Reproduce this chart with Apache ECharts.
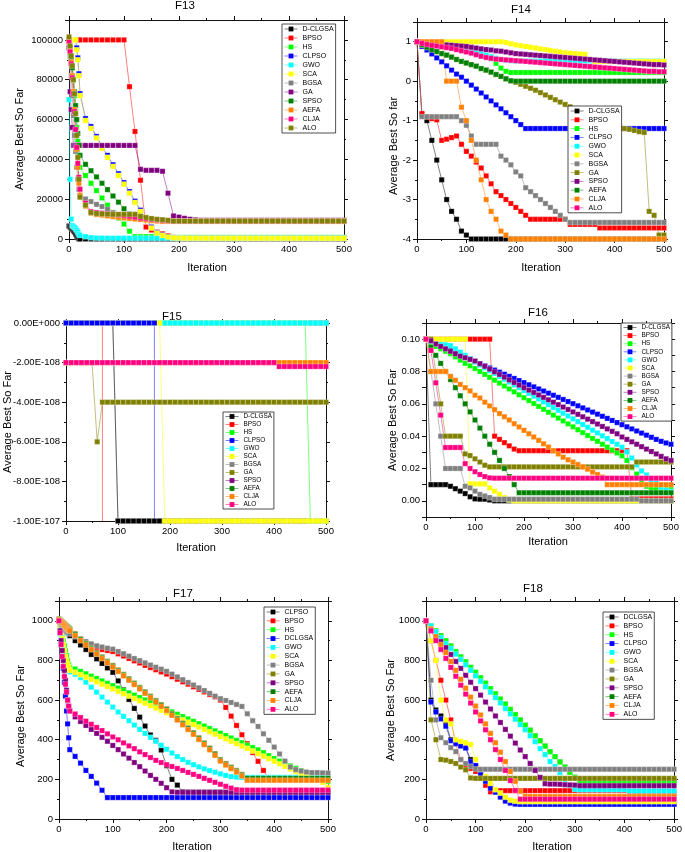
<!DOCTYPE html>
<html><head><meta charset="utf-8">
<script src="https://cdn.jsdelivr.net/npm/echarts/dist/echarts.min.js"></script>
<style>html,body{margin:0;padding:0;background:#fff}#c{width:685px;height:852px}</style>
</head><body><div id="c"></div>
<script>
// ---------- iteration axes ----------
const ITER_DENSE = [0,2,4,6,8,10,12,14,16,18,20,
30,40,50,60,70,80,90,100,110,120,
130,140,150,160,170,180,190,200,210,220,
230,240,250,260,270,280,290,300,310,320,
330,340,350,360,370,380,390,400,410,420,
430,440,450,460,470,480,490,500];
const ITER_STEP = [0,10,20,30,40,50,60,70,80,90,
100,110,120,130,140,150,160,170,180,190,
200,210,220,230,240,250,260,270,280,290,
300,310,320,330,340,350,360,370,380,390,
400,410,420,430,440,450,460,470,480,490,500];

// ---------- legend names ----------
const NAMES_STD = ['D-CLGSA','BPSO','HS','CLPSO','GWO','SCA','BGSA','GA','SPSO','AEFA','CLJA','ALO'];
const NAMES_F17 = ['CLPSO','BPSO','HS','DCLGSA','GWO','SCA','BGSA','GA','SPSO','AEFA','CLJA','ALO'];
const NAMES_F18 = ['DCLGSA','BPSO','HS','CLPSO','GWO','SCA','BGSA','GA','SPSO','AEFA','CLJA','ALO'];

// ---------- F13 (x = ITER_DENSE) ----------
const F13_DCLGSA = [6500,6000,5500,5000,4200,3500,2500,1500,700,100,0,
0,0,0,0,0,0,0,0,0,0, 0,0,0,0,0,0,0,0,0,0, 0,0,0,0,0,0,0,0,0,0, 0,0,0,0,0,0,0,0,0,0, 0,0,0,0,0,0,0,0];
const F13_BPSO = [100000,100000,100000,100000,100000,100000,100000,100000,100000,100000,100000,
100000,100000,100000,100000,100000,100000,100000,100000,76500,54000,
29500,6000,4500,3400,2600,1600,800,500,400,400,
400,400,400,400,400,400,400,400,400,400, 400,400,400,400,400,400,400,400,400,400, 400,400,400,400,400,400,400,400];
const F13_HS = [100000,96000,92000,87000,80000,72000,64000,56000,49000,42000,36000,
31900,28000,24300,20600,17000,13300,10500,7500,3900,1200,
1200,1200,1200,1200,1100,900,800,800,800,800,
800,800,800,800,800,800,800,800,800,800, 800,800,800,800,800,800,800,800,800,800, 800,800,800,800,800,800,800,800];
const F13_CLPSO = [100000,100000,100000,100000,100000,100000,100000,96000,91000,83000,73000,
60500,56500,51500,46500,42000,37300,32800,28300,23800,19000,
14500,10000,6000,3300,2000,1100,700,500,400,400,
400,400,400,400,400,400,400,400,400,400, 400,400,400,400,400,400,400,400,400,400, 400,400,400,400,400,400,400,400];
const F13_GWO = [70000,30000,10000,6800,6300,5800,5200,4500,3500,2500,1800,
1200,700,500,450,400,400,400,400,400,400,
400,400,400,400,400,400,400,400,400,400, 400,400,400,400,400,400,400,400,400,400, 400,400,400,400,400,400,400,400,400,400, 400,400,400,400,400,400,400,400];
const F13_SCA = [100000,100000,100000,100000,100000,100000,100000,95000,90000,82000,72000,
59500,55500,50700,45500,41000,36400,31900,27500,23000,18300,
13800,9500,5500,3000,1800,1000,600,500,400,400,
400,380,380,380,380,380,380,380,380,380, 360,360,360,360,360,360,360,360,360,360, 340,340,340,340,340,340,340,340];
const F13_BGSA = [100000,92000,82000,72000,62000,52000,44000,36000,30000,25000,21500,
20100,18800,17400,16300,14900,13200,12200,11600,11200,10800,
10400,10000,9700,9400,9200,9000,9000,9000,9000,9000,
9000,9000,9000,9000,9000,9000,9000,9000,9000,9000, 9000,9000,9000,9000,9000,9000,9000,9000,9000,9000, 9000,9000,9000,9000,9000,9000,9000,9000];
const F13_GA = [96000,74000,65000,56000,47000,47000,47000,47000,47000,47000,47000,
47000,47000,47000,47000,47000,47000,47000,47000,47000,47000,
35000,34500,34500,34500,34000,23000,11600,11000,10400,9900,
9600,9400,9400,9400,9400,9400,9400,9400,9400,9400, 9400,9400,9400,9400,9400,9400,9400,9400,9400,9400, 9400,9400,9400,9400,9400,9400,9400,9400];
const F13_SPSO = [100000,96000,91000,86000,80000,74000,67000,60000,53000,47000,42000,
37500,34300,31200,28000,24800,21600,18500,15200,12500,11500,
11000,10500,10000,9600,9300,9000,9000,9000,9000,9000,
9000,9000,9000,9000,9000,9000,9000,9000,9000,9000, 9000,9000,9000,9000,9000,9000,9000,9000,9000,9000, 9000,9000,9000,9000,9000,9000,9000,9000];
const F13_AEFA = [100000,95000,89000,82000,74000,65000,55000,45000,36000,28000,22000,
16500,13000,12300,12000,11600,11200,10900,10600,10300,10000,
9800,9500,9200,9000,8800,8800,8800,8800,8800,8800,
8800,8800,8800,8800,8800,8800,8800,8800,8800,8800, 8800,8800,8800,8800,8800,8800,8800,8800,8800,8800, 8800,8800,8800,8800,8800,8800,8800,8800];
const F13_CLJA = [99000,94000,88000,81000,73000,64000,55000,46000,38000,31000,25000,
18000,13800,13300,13000,12700,12400,12100,11800,11400,11000,
10500,10200,9900,9600,9400,9200,9000,9000,9000,9000,
9000,9000,9000,9000,9000,9000,9000,9000,9000,9000, 9000,9000,9000,9000,9000,9000,9000,9000,9000,9000, 9000,9000,9000,9000,9000,9000,9000,9000];
const F13_ALO = [101500,97000,92000,87000,80000,73000,63000,52000,41000,30000,21000,
17000,13300,12800,12600,12500,12400,12400,12400,12400,12400,
11400,10800,10300,9900,9700,9400,9000,9000,9000,9000,
9000,9000,9000,9000,9000,9000,9000,9000,9000,9000, 9000,9000,9000,9000,9000,9000,9000,9000,9000,9000, 9000,9000,9000,9000,9000,9000,9000,9000];

// ---------- F14 (x = ITER_STEP) ----------
const F14_DCLGSA = [1,-0.85,-1,-1.5,-2,-2.5,-3,-3.3,-3.5,-3.8,
-3.9,-4,-4,-4,-4,-4,-4,-4,-4,-4, -4,-4,-4,-4,-4,-4,-4,-4,-4,-4, -4,-4,-4,-4,-4,-4,-4,-4,-4,-4, -4,-4,-4,-4,-4,-4,-4,-4,-4,-4, -4];
const F14_BPSO = [1,-0.82,-0.9,-0.95,-0.98,-1.5,-1.47,-1.43,-1.39,-1.6,
-1.78,-1.9,-2.05,-2.2,-2.4,-2.6,-2.8,-2.9,-3,-3.1,
-3.2,-3.3,-3.4,-3.5,-3.5,-3.5,-3.5,-3.5,-3.5,-3.5,
-3.5,-3.63,-3.63,-3.63,-3.63,-3.63,-3.63,-3.72,-3.72,-3.72,
-3.72,-3.72,-3.72,-3.72,-3.72,-3.72,-3.72,-3.72,-3.72,-3.72, -3.72];
const F14_HS = [1,0.97,0.95,0.93,0.92,0.9,0.89,0.87,0.85,0.84,
0.82,0.8,0.78,0.74,0.65,0.57,0.45,0.33,0.25,0.22,
0.22,0.22,0.22,0.22,0.22,0.22,0.22,0.22,0.22,0.22, 0.22,0.22,0.22,0.22,0.22,0.22,0.22,0.22,0.22,0.22, 0.22,0.22,0.22,0.22,0.22,0.22,0.22,0.22,0.22,0.22, 0.22];
const F14_CLPSO = [1,0.88,0.79,0.69,0.59,0.49,0.39,0.28,0.18,0.1,
0,-0.1,-0.2,-0.3,-0.4,-0.5,-0.6,-0.7,-0.8,-0.9,
-1,-1.1,-1.2,-1.2,-1.2,-1.2,-1.2,-1.2,-1.2,-1.2,
-1.2,-1.2,-1.2,-1.2,-1.2,-1.2,-1.2,-1.2,-1.2,-1.2, -1.2,-1.2,-1.2,-1.2,-1.2,-1.2,-1.2,-1.2,-1.2,-1.2, -1.2];
const F14_GWO = [1,0.98,0.96,0.94,0.92,0.9,0.88,0.86,0.84,0.82,
0.8,0.77,0.74,0.7,0.66,0.62,0.58,0.55,0.53,0.52,
0.51,0.51,0.51,0.51,0.51,0.51,0.51,0.51,0.51,0.51, 0.51,0.51,0.51,0.51,0.51,0.51,0.51,0.51,0.51,0.51, 0.51,0.51,0.51,0.51,0.51,0.51,0.51,0.51,0.51,0.51, 0.5];
const F14_SCA = [1,1,1,1,1,1,1,1,1,1,
1,1,1,1,1,1,1,1,0.98,0.95,
0.92,0.9,0.88,0.86,0.84,0.82,0.8,0.78,0.76,0.74,
0.72,0.71,0.7,0.69,0.68,0.55,0.5,0.5,0.5,0.5,
0.5,0.5,0.5,0.5,0.5,0.5,0.5,0.5,0.5,0.5, 0.5];
const F14_BGSA = [1,-0.9,-0.9,-0.9,-0.9,-0.9,-0.9,-0.9,-0.9,-1,
-1.12,-1.39,-1.6,-1.6,-1.6,-1.6,-1.6,-1.9,-2,-2.12,
-2.3,-2.4,-2.7,-2.8,-2.9,-3,-3.1,-3.2,-3.3,-3.4,
-3.5,-3.58,-3.58,-3.58,-3.58,-3.58,-3.58,-3.58,-3.58,-3.58,
-3.58,-3.58,-3.58,-3.58,-3.58,-3.58,-3.58,-3.58,-3.58,-3.58, -3.58];
const F14_GA = [1,0.92,0.86,0.8,0.75,0.7,0.66,0.61,0.55,0.5,
0.46,0.42,0.38,0.32,0.28,0.23,0.17,0.12,0.06,0.01,
-0.03,-0.08,-0.13,-0.18,-0.23,-0.29,-0.35,-0.41,-0.47,-0.53,
-0.59,-0.65,-0.7,-0.75,-0.8,-0.85,-0.9,-0.95,-1,-1.05,
-1.1,-1.15,-1.2,-1.22,-1.25,-1.28,-1.3,-3.3,-3.4,-3.9, -3.9];
const F14_SPSO = [1,0.98,0.96,0.95,0.94,0.93,0.92,0.91,0.9,0.89,
0.88,0.86,0.84,0.82,0.8,0.79,0.77,0.76,0.74,0.72,
0.7,0.69,0.68,0.67,0.66,0.65,0.64,0.63,0.62,0.61,
0.6,0.59,0.58,0.57,0.56,0.55,0.54,0.53,0.52,0.51,
0.5,0.49,0.48,0.47,0.46,0.45,0.44,0.43,0.42,0.42, 0.41];
const F14_AEFA = [1,0.92,0.86,0.8,0.75,0.7,0.66,0.61,0.55,0.5,
0.46,0.42,0.38,0.32,0.28,0.23,0.17,0.12,0.06,0.01,
0,0,0,0,0,0,0,0,0,0, 0,0,0,0,0,0,0,0,0,0, 0,0,0,0,0,0,0,0,0,0, 0];
const F14_CLJA = [1,1,1,1,1,1,0,0,0,-0.66,
-1,-1.5,-2,-2.5,-3,-3.3,-3.5,-3.8,-3.9,-4,
-4,-4,-4,-4,-4,-4,-4,-4,-4,-4, -4,-4,-4,-4,-4,-4,-4,-4,-4,-4, -4,-4,-4,-4,-4,-4,-4,-4,-4,-4, -4];
const F14_ALO = [1,0.96,0.93,0.91,0.89,0.87,0.85,0.83,0.8,0.77,
0.74,0.71,0.67,0.63,0.6,0.58,0.56,0.55,0.54,0.53,
0.52,0.51,0.5,0.49,0.48,0.47,0.46,0.45,0.44,0.43,
0.42,0.41,0.4,0.39,0.38,0.37,0.36,0.35,0.34,0.33,
0.32,0.31,0.3,0.29,0.28,0.27,0.26,0.25,0.25,0.24, 0.24];

// ---------- F15 (x = ITER_STEP, values in units of 1E-108; -1000 = far below the plotted range) ----------
const F15_UNIT_EXP = -108;
const F15_DCLGSA = [0,0,0,0,0,0,0,0,0,0,
-10,-10,-10,-10,-10,-10,-10,-10,-10,-10, -10,-10,-10,-10,-10,-10,-10,-10,-10,-10, -10,-10,-10,-10,-10,-10,-10,-10,-10,-10, -10,-10,-10,-10,-10,-10,-10,-10,-10,-10, -10];
const F15_BPSO = [0,0,0,0,0,0,0,0,-1000,-1000,
-1000,-1000,-1000,-1000,-1000,-1000,-1000,-1000,-1000,-1000, -1000,-1000,-1000,-1000,-1000,-1000,-1000,-1000,-1000,-1000,
-1000,-1000,-1000,-1000,-1000,-1000,-1000,-1000,-1000,-1000, -1000,-1000,-1000,-1000,-1000,-1000,-1000,-1000,-1000,-1000, -1000];
const F15_HS = [0,0,0,0,0,0,0,0,0,0, 0,0,0,0,0,0,0,0,0,0, 0,0,0,0,0,0,0,0,0,0, 0,0,0,0,0,0,0,0,0,0,
0,0,0,0,0,0,0,-10,-10,-10, -10];
const F15_CLPSO = [0,0,0,0,0,0,0,0,0,0,
0,0,0,0,0,0,0,0,-1000,-1000,
-1000,-1000,-1000,-1000,-1000,-1000,-1000,-1000,-1000,-1000, -1000,-1000,-1000,-1000,-1000,-1000,-1000,-1000,-1000,-1000,
-1000,-1000,-1000,-1000,-1000,-1000,-1000,-1000,-1000,-1000, -1000];
const F15_GWO = [0,0,0,0,0,0,0,0,0,0, 0,0,0,0,0,0,0,0,0,0, 0,0,0,0,0,0,0,0,0,0, 0,0,0,0,0,0,0,0,0,0, 0,0,0,0,0,0,0,0,0,0, 0];
const F15_SCA = [0,0,0,0,0,0,0,0,0,0,
0,0,0,0,0,0,0,0,0,-10,
-10,-10,-10,-10,-10,-10,-10,-10,-10,-10, -10,-10,-10,-10,-10,-10,-10,-10,-10,-10, -10,-10,-10,-10,-10,-10,-10,-10,-10,-10, -10];
const F15_BGSA = [0,0,0,0,0,0,0,0,0,0,
-10,-10,-10,-10,-10,-10,-10,-10,-10,-10, -10,-10,-10,-10,-10,-10,-10,-10,-10,-10, -10,-10,-10,-10,-10,-10,-10,-10,-10,-10, -10,-10,-10,-10,-10,-10,-10,-10,-10,-10, -10];
const F15_GA = [-2,-2,-2,-2,-2,-2,-6,-4,-4,-4,
-4,-4,-4,-4,-4,-4,-4,-4,-4,-4, -4,-4,-4,-4,-4,-4,-4,-4,-4,-4, -4,-4,-4,-4,-4,-4,-4,-4,-4,-4, -4,-4,-4,-4,-4,-4,-4,-4,-4,-4, -4];
const F15_SPSO = [0,0,0,0,0,0,0,0,0,0, 0,0,0,0,0,0,0,0,0,0, 0,0,0,0,0,0,0,0,0,0, 0,0,0,0,0,0,0,0,0,0, 0,0,0,0,0,0,0,0,0,0, 0];
const F15_AEFA = [0,0,0,0,0,0,0,0,0,0, 0,0,0,0,0,0,0,0,0,0, 0,0,0,0,0,0,0,0,0,0, 0,0,0,0,0,0,0,0,0,0, 0,0,0,0,0,0,0,0,0,0, 0];
const F15_CLJA = [-2,-2,-2,-2,-2,-2,-2,-2,-2,-2, -2,-2,-2,-2,-2,-2,-2,-2,-2,-2, -2,-2,-2,-2,-2,-2,-2,-2,-2,-2, -2,-2,-2,-2,-2,-2,-2,-2,-2,-2, -2,-2,-2,-2,-2,-2,-2,-2,-2,-2, -2];
const F15_ALO = [-2,-2,-2,-2,-2,-2,-2,-2,-2,-2, -2,-2,-2,-2,-2,-2,-2,-2,-2,-2, -2,-2,-2,-2,-2,-2,-2,-2,-2,-2, -2,-2,-2,-2,-2,-2,-2,-2,-2,-2,
-2,-2.2,-2.2,-2.2,-2.2,-2.2,-2.2,-2.2,-2.2,-2.2, -2.2];

// ---------- F16 (x = ITER_STEP) ----------
const F16_DCLGSA = [0.1,0.01,0.01,0.01,0.01,0.009,0.0075,0.006,0.0045,0.0025,
0.0012,0.001,0.001,0.0005,0,0,0,0,0,0,
0,0,0,0,0,0,0,0,0,0, 0,0,0,0,0,0,0,0,0,0, 0,0,0,0,0,0,0,0,0,0, 0];
const F16_BPSO = [0.1,0.1,0.1,0.1,0.1,0.1,0.1,0.1,0.1,0.1,
0.1,0.1,0.1,0.1,0.04,0.038,0.036,0.034,0.032,0.031,
0.031,0.031,0.031,0.031,0.031,0.031,0.031,0.031,0.031,0.031,
0.031,0.031,0.031,0.031,0.031,0.031,0.031,0.031,0.031,0.031,
0.031,0.031,0.0012,0.0012,0.0012,0.0012,0.0012,0.0012,0.0012,0.0012, 0.0012];
const F16_HS = [0.1,0.097,0.0955,0.094,0.0925,0.091,0.089,0.087,0.085,0.0835,
0.0818,0.08,0.0782,0.0764,0.0746,0.0728,0.071,0.0692,0.0674,0.0656,
0.0638,0.062,0.0602,0.0584,0.0566,0.0548,0.053,0.0512,0.0494,0.0476,
0.0458,0.044,0.0422,0.0404,0.0386,0.0368,0.035,0.0332,0.0314,0.0296,
0.0278,0.025,0.0205,0.0165,0.0125,0.009,0.0075,0.0074,0.0074,0.0074, 0.0074];
const F16_CLPSO = [0.1,0.099,0.0975,0.096,0.0945,0.093,0.0915,0.09,0.0887,0.0874,
0.0861,0.0848,0.0835,0.0822,0.0809,0.0796,0.0783,0.077,0.0757,0.0744,
0.0731,0.0718,0.0705,0.0692,0.0679,0.0666,0.0653,0.064,0.0627,0.0614,
0.0601,0.0588,0.0575,0.0562,0.0549,0.0536,0.0523,0.051,0.0497,0.0484,
0.0471,0.0458,0.0445,0.0432,0.0419,0.0406,0.0393,0.038,0.0368,0.0358, 0.035];
const F16_GWO = [0.1,0.099,0.098,0.097,0.0965,0.096,0.094,0.092,0.09,0.088,
0.086,0.084,0.0822,0.0805,0.0788,0.077,0.0752,0.0735,0.0717,0.07,
0.0682,0.0665,0.0647,0.063,0.0612,0.0595,0.0577,0.056,0.0542,0.0525,
0.0507,0.049,0.0472,0.0455,0.0437,0.042,0.0402,0.0385,0.0367,0.035,
0.0332,0.0302,0.0265,0.0222,0.0185,0.016,0.0125,0.011,0.0085,0.0065, 0.0058];
const F16_SCA = [0.1,0.1,0.1,0.1,0.1,0.1,0.1,0.1,0.1,0.0105,
0.0105,0.0105,0.0105,0.008,0.006,0.004,0.002,0.0005,0,0,
0,0,0,0,0,0,0,0,0,0, 0,0,0,0,0,0,0,0,0,0, 0,0,0,0,0,0,0,0,0,0, 0];
const F16_BGSA = [0.1,0.08,0.06,0.04,0.02,0.02,0.02,0.02,0.009,0.008,
0.006,0.004,0.003,0.002,0.001,0.001,0.001,0.001,0.001,0.001,
0.001,0.001,0.001,0.001,0.001,0.001,0.001,0.001,0.001,0.001,
0.001,0.001,0.001,0.001,0.001,0.001,0.001,0.001,0.001,0.001,
0.001,0.001,0.001,0.001,0,0,0,0,0,0, 0];
const F16_GA = [0.1,0.1,0.08,0.06,0.04,0.04,0.04,0.04,0.029,0.028,
0.026,0.024,0.022,0.021,0.021,0.021,0.021,0.021,0.021,0.021,
0.021,0.021,0.021,0.021,0.021,0.021,0.021,0.021,0.021,0.021,
0.021,0.021,0.021,0.021,0.021,0.021,0.021,0.021,0.021,0.021,
0.021,0.021,0.021,0.024,0.024,0.024,0.024,0.024,0.024,0.024, 0.024];
const F16_SPSO = [0.1,0.099,0.097,0.0955,0.094,0.0925,0.091,0.0895,0.0885,0.0875,
0.0865,0.0848,0.0832,0.0815,0.0798,0.0782,0.0765,0.0748,0.0732,0.0716,
0.07,0.0685,0.067,0.0655,0.064,0.0625,0.061,0.0595,0.058,0.0565,
0.055,0.0535,0.052,0.0505,0.049,0.0475,0.046,0.0445,0.043,0.0415,
0.0395,0.038,0.0365,0.035,0.0335,0.032,0.0305,0.029,0.0275,0.026, 0.025];
const F16_AEFA = [0.1,0.095,0.09,0.085,0.08,0.075,0.07,0.065,0.06,0.055,
0.05,0.045,0.04,0.035,0.03,0.025,0.02,0.015,0.01,0.005,
0.005,0.005,0.005,0.005,0.005,0.005,0.005,0.005,0.005,0.005,
0.005,0.005,0.005,0.005,0.005,0.005,0.005,0.005,0.005,0.005,
0.005,0.005,0.005,0.005,0.005,0.005,0.005,0.005,0.005,0.005, 0.005];
const F16_CLJA = [0.1,0.08,0.08,0.08,0.08,0.077,0.0746,0.072,0.07,0.068,
0.0653,0.0636,0.061,0.0587,0.0564,0.054,0.052,0.05,0.0477,0.0457,
0.0436,0.0415,0.0395,0.0374,0.0353,0.0333,0.031,0.029,0.027,0.0254,
0.024,0.0225,0.021,0.0196,0.0178,0.0163,0.0147,0.01,0.01,0.01,
0.01,0.01,0.01,0.01,0.01,0.01,0.01,0.01,0.01,0.01, 0.01];
const F16_ALO = [0.1,0.093,0.073,0.053,0.033,0.033,0.033,0.033,0.023,0.02,
0.018,0.0163,0.015,0.0142,0.014,0.014,0.014,0.014,0.014,0.014,
0.014,0.014,0.014,0.014,0.014,0.014,0.014,0.014,0.014,0.014,
0.014,0.014,0.014,0.014,0.014,0.014,0.014,0.014,0.014,0.014,
0.014,0.014,0.014,0.014,0.014,0.014,0.014,0.014,0.014,0.014, 0.014];

// ---------- F17 (x = ITER_DENSE) ----------
const F17_CLPSO = [1000,995,990,985,980,975,965,955,945,935,925,
900,878,855,830,808,785,762,740,697,652,
603,558,514,469,424,397,348,269,200,171,
137,135,135,135,135,135,135,135,135,135, 135,135,135,135,135,135,135,135,135,135, 135,135,135,135,135,135,135,135];
const F17_BPSO = [1000,995,990,985,978,970,965,960,955,950,945,
925,905,890,878,866,855,850,845,833,822,
810,798,787,775,764,753,742,731,718,705,
692,680,667,654,641,628,616,600,563,519,
472,425,380,335,291,245,205,200,200,200, 200,200,200,200,200,200,200,200];
const F17_HS = [1000,975,950,925,900,875,850,825,800,780,765,
757,745,733,721,709,697,685,673,661,649,
637,625,613,601,589,577,565,553,541,529,
517,505,493,481,469,457,445,433,421,409,
397,385,373,361,349,335,320,305,292,280, 268,256,244,232,220,210,200,190];
const F17_DCLGSA = [1000,940,880,820,760,690,620,545,480,410,350,
316,282,245,215,181,145,108,108,108,108,
108,108,108,108,108,108,108,108,108,108, 108,108,108,108,108,108,108,108,108,108, 108,108,108,108,108,108,108,108,108,108, 108,108,108,108,108,108,108,108];
const F17_GWO = [1000,960,920,880,850,820,800,780,765,752,742,
730,713,690,665,640,615,590,565,540,518,
496,474,452,432,412,392,372,352,333,315,
300,286,274,263,253,244,236,228,220,214,
211,210,210,210,210,210,210,210,210,210, 210,210,210,210,210,210,210,210];
const F17_SCA = [1000,970,940,910,880,850,820,800,780,765,750,
740,728,716,704,692,680,668,656,644,632,
620,608,596,584,572,560,548,536,524,512,
500,488,476,464,452,440,428,416,404,392,
380,368,356,343,330,317,304,291,278,265, 252,240,228,217,205,195,185,160];
const F17_BGSA = [1000,990,980,972,965,960,952,945,940,937,935,
920,907,895,884,874,868,862,857,845,834,
822,810,799,788,777,766,756,745,731,717,
703,689,676,662,648,634,620,607,598,588,
578,568,531,496,467,430,397,363,328,292, 262,249,242,237,234,234,233,232];
const F17_GA = [1010,1005,1000,995,990,985,980,975,970,965,960,
935,909,887,863,840,818,796,775,752,730,
708,686,664,642,620,598,577,556,532,508,
484,460,436,410,384,358,330,300,280,262,
245,225,200,200,200,200,200,200,200,200, 200,200,200,200,200,200,200,200];
const F17_SPSO = [1000,950,900,850,800,750,700,650,600,565,545,
515,492,472,452,432,412,392,371,350,328,
307,285,264,242,220,200,180,158,137,135,
135,135,135,135,135,135,135,135,135,135, 135,135,135,135,135,135,135,135,135,135, 135,135,135,135,135,135,135,135];
const F17_AEFA = [1005,1000,995,990,985,980,975,970,965,960,955,
930,905,882,858,835,813,791,770,748,726,
704,682,660,638,616,594,573,552,528,504,
480,456,432,406,380,354,326,296,276,258,
240,220,205,205,205,205,205,205,205,205, 205,205,205,205,205,205,205,205];
const F17_CLJA = [1005,1000,995,990,985,978,972,966,960,955,950,
925,900,878,855,832,810,788,766,744,722,
700,678,656,634,612,590,568,547,523,499,
475,451,427,401,375,349,321,292,272,254,
237,217,195,195,195,195,195,195,195,195, 195,195,195,195,195,195,195,195];
const F17_ALO = [1000,940,880,820,770,720,680,640,600,570,545,
530,512,494,478,462,446,430,414,400,384,
369,355,339,325,310,296,285,274,265,255,
245,235,225,215,205,195,185,175,165,156,
148,146,146,146,146,146,146,146,146,146, 146,146,146,146,146,146,146,146];

// ---------- F18 (x = ITER_STEP) ----------
const F18_DCLGSA = [1000,600,550,520,485,400,385,372,360,300,
265,235,200,165,140,115,100,85,78,76,
76,76,76,76,76,76,76,76,76,76, 76,76,76,76,76,76,76,76,76,76, 76,76,76,76,76,76,76,76,76,76, 76];
const F18_BPSO = [1000,900,800,700,600,500,380,300,268,255,
240,215,170,137,140,143,143,143,143,143,
143,143,143,143,143,143,143,143,143,143, 143,143,143,143,143,143,143,143,143,143,
143,130,130,130,130,130,130,130,130,130, 130];
const F18_HS = [1000,975,950,925,900,873,845,818,793,765,
740,713,685,658,632,605,580,553,527,500,
473,448,420,395,368,340,315,288,262,235,
210,190,182,182,182,182,182,182,182,182, 182,182,182,182,182,182,182,182,182,182, 182];
const F18_CLPSO = [1000,590,540,505,468,395,380,368,358,290,
270,230,190,155,135,110,90,80,75,74,
74,74,74,74,74,74,74,74,74,74, 74,74,74,74,74,74,74,74,74,74, 74,74,74,74,74,74,74,74,74,74, 74];
const F18_GWO = [1000,975,945,915,885,860,832,805,778,750,
722,695,667,640,612,585,557,530,503,476,
450,420,390,355,325,290,265,234,200,170,
150,148,148,148,148,148,148,148,148,148,
148,142,142,142,142,142,142,142,142,142, 142];
const F18_SCA = [1000,900,800,600,500,480,400,392,385,376,
300,250,215,180,148,131,110,95,90,88,
88,88,88,88,88,88,88,88,88,88, 88,88,88,88,88,88,88,88,88,88, 88,88,88,88,88,88,88,88,88,88, 88];
const F18_BGSA = [1000,700,500,410,385,360,340,300,280,265,
252,251,251,251,251,251,251,251,251,251,
251,251,251,251,251,251,251,251,251,251, 251,251,251,251,251,251,251,251,251,251, 251,251,251,251,251,251,251,251,251,251, 251];
const F18_GA = [1000,500,400,300,297,290,280,262,248,207,
205,205,205,205,205,205,205,205,205,205, 205,205,205,205,205,205,205,205,205,205,
205,205,205,205,205,205,205,205,205,205, 205,205,205,205,205,205,205,205,205,205, 205];
const F18_SPSO = [1000,950,920,895,865,830,795,760,725,690,
658,625,590,555,520,487,452,418,383,348,
315,280,245,210,178,176,176,175,173,172,
171,168,168,168,168,168,168,168,168,168, 168,168,168,168,168,168,168,168,168,168, 168];
const F18_AEFA = [1000,975,950,925,900,873,845,818,793,765,
740,713,685,658,632,605,580,553,527,500,
473,448,420,395,368,340,315,288,262,235,
210,192,192,192,192,192,192,192,192,192, 192,192,192,192,192,192,192,192,192,192, 192];
const F18_CLJA = [1000,960,920,880,840,795,750,705,660,615,
570,525,480,432,385,337,290,240,190,140,
115,113,113,113,113,113,113,113,113,113, 113,113,113,113,113,113,113,113,113,113, 113,113,113,113,113,113,113,113,113,113, 113];
const F18_ALO = [1000,950,900,855,810,765,720,675,630,585,
540,495,450,400,350,300,245,194,144,100,
100,100,100,100,100,100,100,100,100,100, 100,100,100,100,100,100,100,100,100,100, 100,100,100,100,100,100,100,100,100,100, 100];

// ---------- styling ----------
const FONT = '"Liberation Sans", Arial, sans-serif';
const PAL_STD = ['#000000','#FF0000','#00FF00','#0000FF','#00FFFF','#FFFF00','#808080','#808000','#800080','#008000','#FF8000','#FF0080'];
const PAL_F13 = ['#000000','#FF0000','#00FF00','#0000FF','#00FFFF','#FFFF00','#808080','#800080','#008000','#FF8000','#FF0080','#808000'];

function sciLabel(v){
  if (Math.abs(v) < 1e-9) return '0.00E+000';
  const e = Math.floor(Math.log10(Math.abs(v)) + 1e-9);
  const m = v / Math.pow(10, e);
  const ex = e + F15_UNIT_EXP;
  return m.toFixed(2) + 'E' + (ex < 0 ? '-' : '+') + String(Math.abs(ex)).padStart(3,'0');
}

const specs = [
 {title:'F13', names:NAMES_STD, x:ITER_DENSE, pal:PAL_F13,
  vals:[F13_DCLGSA,F13_BPSO,F13_HS,F13_CLPSO,F13_GWO,F13_SCA,F13_BGSA,F13_GA,F13_SPSO,F13_AEFA,F13_CLJA,F13_ALO],
  grid:[69,20,275,219], y:{min:0,max:110000,interval:20000,minor:2,fmt:v=>(Math.round(v)%20000===0?String(Math.round(v)):'')},
  leg:[282,24,2.0,7], tPos:[185,6], yName:'Average Best So Far', yPos:[20,139], xPos:[207,268]},
 {title:'F14', names:NAMES_STD, x:ITER_STEP, pal:PAL_STD,
  vals:[F14_DCLGSA,F14_BPSO,F14_HS,F14_CLPSO,F14_GWO,F14_SCA,F14_BGSA,F14_GA,F14_SPSO,F14_AEFA,F14_CLJA,F14_ALO],
  grid:[417,22,247,217], y:{min:-4,max:1.5,interval:1,minor:2,fmt:v=>(Math.abs(v-Math.round(v))<1e-6?String(Math.round(v)):'')},
  leg:[568,106,1.8,7], tPos:[521,10], yName:'Average Best So far', yPos:[394,146], xPos:[541,268]},
 {title:'F15', names:NAMES_STD, x:ITER_STEP, pal:PAL_STD,
  vals:[F15_DCLGSA,F15_BPSO,F15_HS,F15_CLPSO,F15_GWO,F15_SCA,F15_BGSA,F15_GA,F15_SPSO,F15_AEFA,F15_CLJA,F15_ALO],
  order:[6,8,9,0,1,2,4,5,3,7,10,11],
  grid:[66,323,260,198], y:{min:-10,max:0,interval:2,minor:2,fmt:sciLabel},
  leg:[223,412,2.0,6.4], tPos:[172,317], yName:'Average Best So Far', yPos:[8,422], xPos:[196,548]},
 {title:'F16', names:NAMES_STD, x:ITER_STEP, pal:PAL_STD,
  vals:[F16_DCLGSA,F16_BPSO,F16_HS,F16_CLPSO,F16_GWO,F16_SCA,F16_BGSA,F16_GA,F16_SPSO,F16_AEFA,F16_CLJA,F16_ALO],
  grid:[426,323,245,194], y:{min:-0.01,max:0.11,interval:0.01,minor:0,fmt:v=>{const k=Math.round(v*100);return (k>=0&&k<=10&&k%2===0)?(k/100).toFixed(2):'';}},
  leg:[621,323,2.1,6.4], tPos:[538,313], yName:'Average Best So Far', yPos:[393,420], xPos:[548,542]},
 {title:'F17', names:NAMES_F17, x:ITER_DENSE, pal:PAL_STD,
  vals:[F17_CLPSO,F17_BPSO,F17_HS,F17_DCLGSA,F17_GWO,F17_SCA,F17_BGSA,F17_GA,F17_SPSO,F17_AEFA,F17_CLJA,F17_ALO],
  grid:[59,601,269,218], y:{min:0,max:1100,interval:200,minor:2,fmt:v=>(Math.round(v)%200===0?String(Math.round(v)):'')},
  leg:[264,607,1.85,7], tPos:[183,594], yName:'Average Best So Far', yPos:[21,716], xPos:[192,847]},
 {title:'F18', names:NAMES_F18, x:ITER_STEP, pal:PAL_STD,
  vals:[F18_DCLGSA,F18_BPSO,F18_HS,F18_CLPSO,F18_GWO,F18_SCA,F18_BGSA,F18_GA,F18_SPSO,F18_AEFA,F18_CLJA,F18_ALO],
  order:[0,1,9,2,3,4,5,6,7,8,10,11],
  grid:[426,601,252,218], y:{min:0,max:1100,interval:200,minor:2,fmt:v=>(Math.round(v)%200===0?String(Math.round(v)):'')},
  leg:[603,612,1.85,7], tPos:[533,589], yName:'Average Best So Far', yPos:[391,710], xPos:[552,847]}
];

// sanity check lengths
specs.forEach(s=>s.vals.forEach((a,i)=>{ if(a.length!==s.x.length) throw new Error(s.title+' '+s.names[i]+' length '+a.length+' expected '+s.x.length); }));

const grids=[], xAxes=[], yAxes=[], series=[], legends=[], texts=[];
const axisCommon = (g)=>({
  type:'value', gridIndex:g, splitLine:{show:false}, minorSplitLine:{show:false},
  axisLine:{show:true, onZero:false, lineStyle:{color:'#111', width:1}},
  axisTick:{show:true, inside:false, length:4, lineStyle:{color:'#111', width:1}}
});
specs.forEach((s,g)=>{
  grids.push({left:s.grid[0], top:s.grid[1], width:s.grid[2], height:s.grid[3], show:false, containLabel:false});
  const xm = {min:0, max:500, interval:100, minorTick:{show:true, splitNumber:2, length:2, lineStyle:{color:'#111'}}};
  xAxes.push(Object.assign(axisCommon(g), xm, {position:'bottom',
    axisLabel:{show:true, fontSize:9.5, color:'#000', fontFamily:FONT, margin:5}}));
  xAxes.push(Object.assign(axisCommon(g), xm, {position:'top', axisLabel:{show:false}}));
  const ym = {min:s.y.min, max:s.y.max, interval:s.y.interval,
    minorTick:{show:s.y.minor>0, splitNumber:s.y.minor||2, length:2, lineStyle:{color:'#111'}}};
  yAxes.push(Object.assign(axisCommon(g), ym, {position:'left',
    axisLabel:{show:true, fontSize:9.5, color:'#000', fontFamily:FONT, margin:6, formatter:s.y.fmt, showMinLabel:true, showMaxLabel:true}}));
  yAxes.push(Object.assign(axisCommon(g), ym, {position:'right', axisLabel:{show:false}}));

  const order = s.order || s.names.map((_,i)=>i);
  order.forEach(i=>{
    series.push({type:'line', name:s.names[i], xAxisIndex:2*g, yAxisIndex:2*g,
      data:s.vals[i].map((v,j)=>[s.x[j], v]),
      symbol:'rect', symbolSize:5.2, showSymbol:true, showAllSymbol:true, clip:true,
      lineStyle:{width:1, color:s.pal[i], opacity:0.5},
      itemStyle:{color:s.pal[i], borderColor:'rgba(255,255,255,0.55)', borderWidth:0.5},
      emphasis:{disabled:true}, silent:true, animation:false});
  });

  legends.push({orient:'vertical', left:s.leg[0], top:s.leg[1], itemGap:s.leg[2],
    itemWidth:13, itemHeight:6, padding:[1.5,2,1.5,2], selectedMode:false,
    backgroundColor:'#ffffff', borderColor:'#222', borderWidth:0.8, borderRadius:0,
    textStyle:{fontSize:s.leg[3], fontFamily:FONT, color:'#000'},
    data:s.names.map((n,i)=>({name:n, itemStyle:{color:s.pal[i], borderWidth:0}, lineStyle:{color:s.pal[i], width:1, opacity:0.5}}))});

  texts.push({type:'text', x:s.tPos[0], y:s.tPos[1], style:{text:s.title, fontSize:11.5, fontFamily:FONT, fill:'#000', align:'center', verticalAlign:'middle', textAlign:'center', textVerticalAlign:'middle'}});
  texts.push({type:'text', x:s.xPos[0], y:s.xPos[1], style:{text:'Iteration', fontSize:11, fontFamily:FONT, fill:'#000', align:'center', verticalAlign:'middle', textAlign:'center', textVerticalAlign:'middle'}});
  texts.push({type:'text', x:s.yPos[0], y:s.yPos[1], rotation:Math.PI/2, style:{text:s.yName, fontSize:11, fontFamily:FONT, fill:'#000', align:'center', verticalAlign:'middle', textAlign:'center', textVerticalAlign:'middle'}});
});

const chart = echarts.init(document.getElementById('c'), null, {renderer:'canvas'});
chart.setOption({
  backgroundColor:'#ffffff', animation:false,
  grid:grids, xAxis:xAxes, yAxis:yAxes, series:series, legend:legends,
  graphic:{elements:texts}
});
</script></body></html>
